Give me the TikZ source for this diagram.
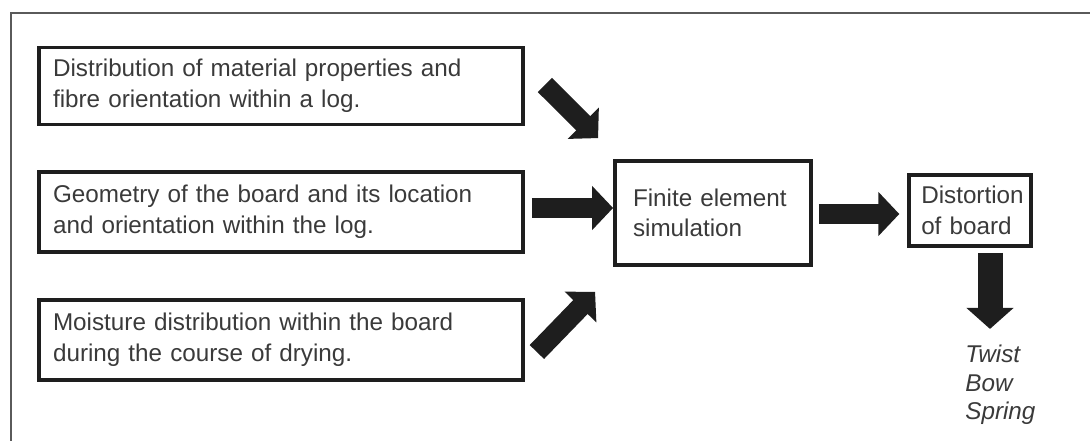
\documentclass[tikz,border=0pt]{standalone}
\usepackage{fontspec}
\setmainfont{Liberation Sans}
\usetikzlibrary{arrows.meta,positioning}
\definecolor{inkgray}{HTML}{3A3A3A}
\definecolor{arrowblack}{HTML}{1E1E1E}
\definecolor{framegray}{HTML}{5A5A5A}

\begin{document}
\begin{tikzpicture}[
x=0.02cm, y=-0.02cm,
font=\fontsize{13.8}{17.4}\selectfont,
inbox/.style={draw=arrowblack, line width=2.2pt, text=inkgray, align=left, text width=9.12cm, inner xsep=0.28cm, minimum height=1.6cm},
simbox/.style={draw=arrowblack, line width=2.2pt, text=inkgray, align=left, text width=3.2cm, inner xsep=0.36cm, minimum height=2.08cm},
outbox/.style={draw=arrowblack, line width=2.2pt, text=inkgray, align=left, text width=1.95cm, inner xsep=0.24cm, minimum height=1.42cm},
bigarrow/.style={draw=arrowblack, line width=0.4cm, -{Triangle[length=0.42cm,width=0.86cm]}},
downarrow/.style={draw=arrowblack, line width=0.5cm, -{Triangle[length=0.42cm,width=0.92cm]}},
result/.style={text=inkgray, align=left, inner sep=0pt, font=\fontsize{13.8}{16.2}\selectfont\itshape}
]
    \useasboundingbox (0,0) rectangle (1090,441);

    % Outer frame (only top and left edges show)
    \draw[framegray, line width=0.9pt] (1090,13) -- (11,13) -- (11,441);

    % Input boxes
    \node[inbox, minimum height=1.54cm] (props) at (281,86)
        {Distribution of material properties and\\fibre orientation within a log.};
    \node[inbox] (geo) at (281,212)
        {Geometry of the board and its location\\and orientation within the log.};
    \node[inbox] (moist) at (281,340)
        {Moisture distribution within the board\\during the course of drying.};

    % Simulation and result boxes
    \node[simbox] (fe) at (713,213) {Finite element\\simulation};
    \node[outbox] (dist) at (970,210.5) {Distortion\\of board};

    % Block arrows
    \coordinate (a1s) at ([shift={(20,-1)}]props.east);
    \coordinate (a1e) at ([shift={(-15,-21)}]fe.north west);
    \draw[bigarrow] (a1s) -- (a1e);

    \coordinate (a2s) at ([shift={(7,-4)}]geo.east);
    \draw[bigarrow] (a2s) -- (a2s -| fe.west);

    \coordinate (a3s) at ([shift={(12,12)}]moist.east);
    \coordinate (a3e) at ([shift={(-18,25)}]fe.south west);
    \draw[bigarrow] (a3s) -- (a3e);

    \coordinate (a4s) at ([shift={(6,1)}]fe.east);
    \draw[bigarrow, shorten >=0.16cm] (a4s) -- (a4s -| dist.west);

    \coordinate (a5s) at ([shift={(20,5)}]dist.south);
    \coordinate (a5e) at ([shift={(20,81)}]dist.south);
    \draw[downarrow] (a5s) -- (a5e);

    % Kinds of distortion
    \node[result, anchor=north west] (res) at ([shift={(-25,16)}]a5e) {Twist\\Bow\\Spring};
\end{tikzpicture}
\end{document}
